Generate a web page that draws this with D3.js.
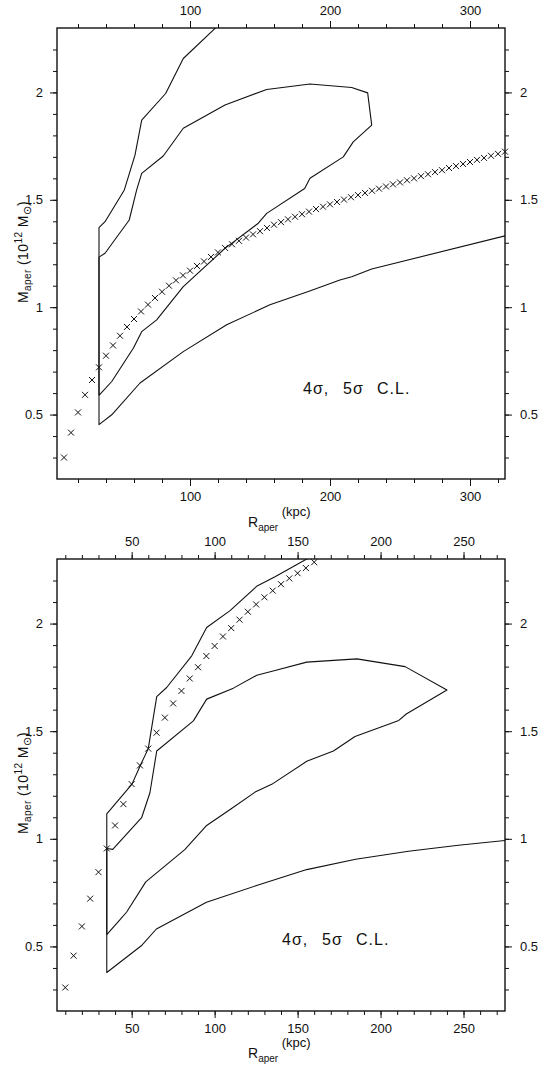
<!DOCTYPE html>
<html>
<head>
<meta charset="utf-8">
<script src="https://cdn.jsdelivr.net/npm/d3@7"></script>
<style>
  html, body { margin: 0; padding: 0; background: #fff; }
  text { font-family: "Liberation Sans", Arial, sans-serif; fill: #111; }
</style>
</head>
<body>
<svg id="chart" width="550" height="1070"></svg>
<script>
// ---------- Upper panel: aperture mass profile (kpc, 10^12 Msun) ----------
const topProfileR = [10,15,20,25,30,35,40,45,50,55,60,65,70,75,80,85,90,95,100,105,110,115,120,125,
  130,135,140,145,150,155,160,165,170,175,180,185,190,195,200,205,210,215,220,225,230,235,240,245,
  250,255,260,265,270,275,280,285,290,295,300,305,310,315,320,325];
const topProfileM = [0.300,0.416,0.510,0.592,0.661,0.720,0.774,0.822,0.867,0.908,0.945,0.980,1.012,
  1.043,1.072,1.100,1.125,1.148,1.170,1.192,1.213,1.234,1.255,1.276,1.293,1.309,1.324,1.339,1.354,
  1.369,1.384,1.396,1.409,1.421,1.433,1.445,1.457,1.468,1.479,1.490,1.501,1.512,1.522,1.532,1.542,
  1.552,1.562,1.572,1.581,1.591,1.600,1.610,1.619,1.629,1.638,1.648,1.657,1.667,1.676,1.686,1.695,
  1.705,1.714,1.724];

// 4-sigma confidence contour (closed)
const topInner = [[35,0.589],[44.1,0.654],[59.5,0.809],[65.5,0.886],[76.2,0.941],[95.2,1.096],
  [125,1.274],[148.8,1.391],[154.8,1.437],[181.9,1.553],[185.7,1.600],[209.5,1.700],[216.6,1.770],
  [229.8,1.848],[226.9,1.998],[215.5,2.023],[185.7,2.039],[154.8,2.014],[125,1.941],[95.2,1.833],
  [80.9,1.704],[65.5,1.623],[61.9,1.546],[56.6,1.406],[39.3,1.251],[35,1.233],[35,0.589]];
// 5-sigma confidence contour (runs off the frame at top and right)
const topOuter = [[126,2.35],[117.9,2.298],[95.2,2.158],[82.6,1.995],[65.5,1.871],[60.7,1.708],
  [53.1,1.546],[39.3,1.398],[35,1.370],[35,0.453],[44.1,0.499],[64.3,0.647],[95.2,0.793],
  [126.2,0.918],[157.1,1.011],[184.5,1.073],[207.1,1.127],[215.5,1.142],[229.8,1.178],[325,1.332],
  [330,1.340]];

// ---------- Lower panel ----------
const botProfileR = [10,15,20,25,30,35,40,45,50,55,60,65,70,75,80,85,90,95,100,105,110,115,120,125,
  130,135,140,145,150,155,160];
const botProfileM = [0.309,0.457,0.593,0.722,0.845,0.955,1.062,1.161,1.254,1.341,1.419,1.493,1.563,
  1.629,1.687,1.745,1.797,1.849,1.896,1.940,1.979,2.018,2.055,2.089,2.122,2.153,2.183,2.210,2.234,
  2.258,2.285];

const botInner = [[35,0.555],[43,0.624],[47,0.660],[58.5,0.800],[82,0.950],[95.2,1.062],[110,1.140],
  [124.4,1.217],[134.4,1.253],[155.5,1.360],[171.6,1.408],[184.6,1.475],[211,1.550],[215.5,1.580],
  [240,1.691],[214.8,1.800],[185.7,1.836],[155.5,1.821],[136.4,1.782],[125.4,1.760],[111.3,1.700],
  [95.2,1.649],[87.2,1.548],[65.1,1.408],[61,1.214],[56,1.098],[38.6,0.951],[35,0.955],[35,0.555]];
const botOuter = [[162,2.33],[155.5,2.300],[136.4,2.218],[125.3,2.173],[109.3,2.060],[95.2,1.982],
  [86.2,1.850],[71.1,1.703],[65.1,1.661],[60,1.419],[55.2,1.341],[50.2,1.254],[35,1.116],[35,0.379],
  [55.8,0.503],[64.9,0.581],[95.1,0.705],[125.3,0.783],[155.5,0.857],[185,0.905],[216.8,0.942],
  [246.9,0.970],[275,0.992]];

// ---------- Axis ticks ----------
const topXMajor = [100, 200, 300];
const botXMajor = [50, 100, 150, 200, 250];
const yMajor = [0.5, 1, 1.5, 2];
const yDomain = [0.2, 2.3];

const svg = d3.select("#chart");

const panels = [
  { top: 28, bottom: 479, xDomain: [5, 325], xMajor: topXMajor, xMinorStep: 20,
    profR: topProfileR, profM: topProfileM, inner: topInner, outer: topOuter,
    yLabelStart: 303, xLabelBase: 527, clLabel: { x: 303, y: 394 }, id: "a" },
  { top: 559, bottom: 1011, xDomain: [5, 275], xMajor: botXMajor, xMinorStep: 10,
    profR: botProfileR, profM: botProfileM, inner: botInner, outer: botOuter,
    yLabelStart: 834, xLabelBase: 1058, clLabel: { x: 282, y: 945 }, id: "b" }
];

const left = 57, right = 505;

panels.forEach(p => {
  const x = d3.scaleLinear().domain(p.xDomain).range([left, right]);
  const y = d3.scaleLinear().domain(yDomain).range([p.bottom, p.top]);
  const xMinor = d3.range(Math.ceil(p.xDomain[0] / p.xMinorStep) * p.xMinorStep, p.xDomain[1] + 0.001, p.xMinorStep);
  const yMinor = d3.range(0.3, 2.25, 0.1).map(v => +v.toFixed(2));
  const fmt = d => String(d);

  const g = svg.append("g");

  // clip region for the contours
  svg.append("clipPath").attr("id", "clip-" + p.id)
    .append("rect").attr("x", left).attr("y", p.top)
    .attr("width", right - left).attr("height", p.bottom - p.top);

  const addAxis = (axis, tx, ty) => {
    const a = g.append("g").attr("transform", `translate(${tx},${ty})`).call(axis);
    a.select(".domain").remove();
    a.selectAll("line").attr("stroke", "#111").attr("stroke-width", 1);
    a.selectAll("text").attr("font-size", 13).attr("font-family", "Liberation Sans, Arial, sans-serif").attr("fill", "#111");
    return a;
  };

  // minor ticks
  addAxis(d3.axisBottom(x).tickValues(xMinor).tickSize(4).tickFormat(""), 0, p.bottom);
  addAxis(d3.axisTop(x).tickValues(xMinor).tickSize(4).tickFormat(""), 0, p.top);
  addAxis(d3.axisLeft(y).tickValues(yMinor).tickSize(4).tickFormat(""), left, 0);
  addAxis(d3.axisRight(y).tickValues(yMinor).tickSize(4).tickFormat(""), right, 0);
  // major ticks with labels
  addAxis(d3.axisBottom(x).tickValues(p.xMajor).tickSize(7).tickPadding(6).tickFormat(fmt), 0, p.bottom);
  addAxis(d3.axisTop(x).tickValues(p.xMajor).tickSize(7).tickPadding(6).tickFormat(fmt), 0, p.top);
  addAxis(d3.axisLeft(y).tickValues(yMajor).tickSize(7).tickPadding(7).tickFormat(fmt), left, 0);
  addAxis(d3.axisRight(y).tickValues(yMajor).tickSize(7).tickPadding(8).tickFormat(fmt), right, 0);

  // frame
  g.append("rect").attr("x", left).attr("y", p.top)
    .attr("width", right - left).attr("height", p.bottom - p.top)
    .attr("fill", "none").attr("stroke", "#111").attr("stroke-width", 1.4);

  // confidence contours
  const line = d3.line().x(d => x(d[0])).y(d => y(d[1]));
  const cg = g.append("g").attr("clip-path", `url(#clip-${p.id})`);
  [p.inner, p.outer].forEach(c => {
    cg.append("path").attr("d", line(c))
      .attr("fill", "none").attr("stroke", "#111").attr("stroke-width", 1.1)
      .attr("stroke-linejoin", "round");
  });

  // mass profile drawn as crosses
  const s = 3;
  g.append("g").selectAll("path").data(p.profR.map((r, i) => [r, p.profM[i]]))
    .join("path")
    .attr("d", d => {
      const cx = x(d[0]), cy = y(d[1]);
      return `M${cx - s},${cy - s}L${cx + s},${cy + s}M${cx - s},${cy + s}L${cx + s},${cy - s}`;
    })
    .attr("stroke", "#111").attr("stroke-width", 1).attr("fill", "none");

  // confidence level note
  const cl = g.append("g").attr("font-size", 16);
  cl.append("text").attr("x", p.clLabel.x).attr("y", p.clLabel.y).attr("letter-spacing", 1).text("4σ,");
  cl.append("text").attr("x", p.clLabel.x + 40).attr("y", p.clLabel.y).attr("letter-spacing", 1).text("5σ");
  cl.append("text").attr("x", p.clLabel.x + 74).attr("y", p.clLabel.y).attr("letter-spacing", 1).text("C.L.");

  // x-axis title
  const xt = g.append("text").attr("x", 248).attr("y", p.xLabelBase).attr("font-size", 14);
  xt.append("tspan").text("R");
  xt.append("tspan").attr("font-size", 10).attr("dy", 4).text("aper");
  xt.append("tspan").attr("font-size", 13).attr("dy", -15).text(" (kpc)");

  // y-axis title
  const yt = g.append("text").attr("transform", `translate(28,${p.yLabelStart}) rotate(-90)`)
    .attr("font-size", 14).attr("letter-spacing", 0.4);
  yt.append("tspan").text("M");
  yt.append("tspan").attr("font-size", 10).attr("dy", 3).text("aper");
  yt.append("tspan").attr("dy", -3).text(" (10");
  yt.append("tspan").attr("font-size", 10).attr("dy", -6).text("12");
  yt.append("tspan").attr("dy", 6).text(" M");
  yt.append("tspan").attr("font-size", 11).attr("dy", 3).text("⊙");
  yt.append("tspan").attr("dy", -3).text(")");
});
</script>
</body>
</html>
